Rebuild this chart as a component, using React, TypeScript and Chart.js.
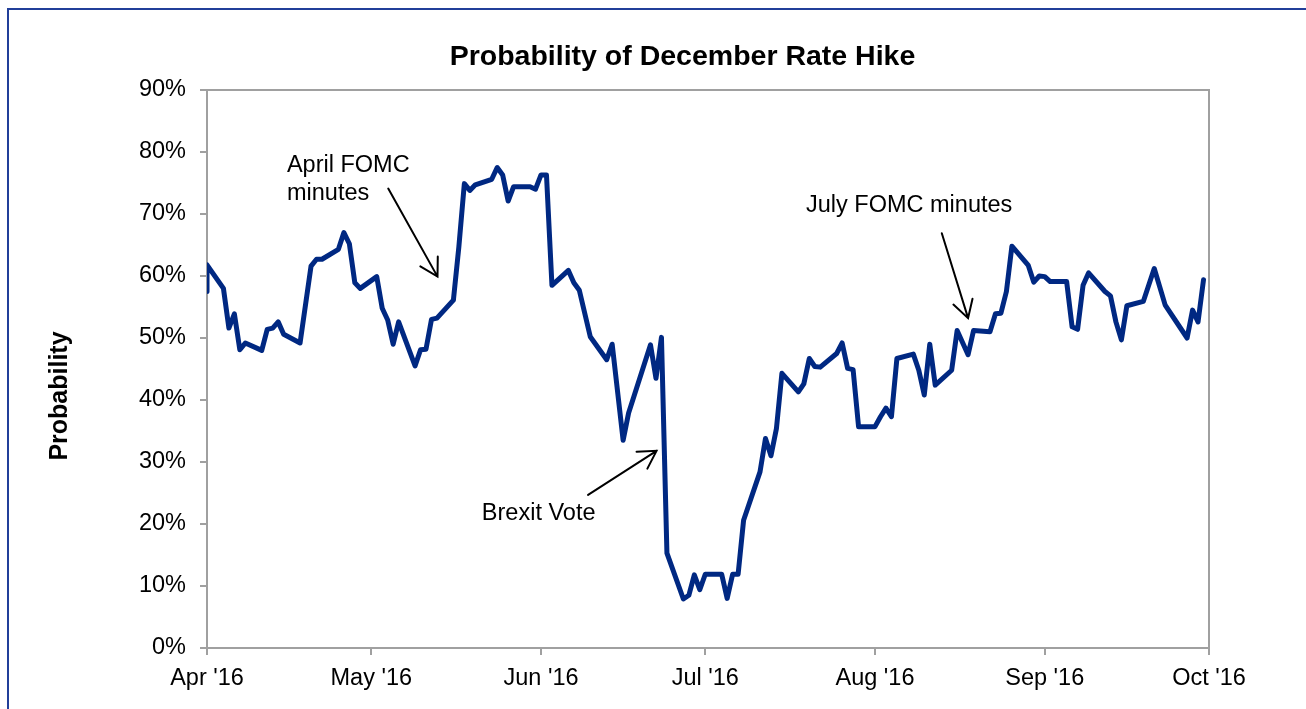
import React, { useEffect, useRef } from "react";
import { Chart, registerables } from "chart.js";

Chart.register(...registerables);

const FONT = "'Liberation Sans', Arial, Helvetica, sans-serif";
const LINE_COLOR = "#002882";
const AXIS_COLOR = "#A0A0A0";
const FRAME_COLOR = "#213F99";

// Trading dates (ISO) and probability of a December hike (%)
const dates: string[] = [
  "2016-04-01", "2016-04-01", "2016-04-04", "2016-04-05", "2016-04-06", "2016-04-07", "2016-04-08",
  "2016-04-11", "2016-04-12", "2016-04-13", "2016-04-14", "2016-04-15",
  "2016-04-18", "2016-04-20", "2016-04-21", "2016-04-22",
  "2016-04-25", "2016-04-26", "2016-04-27", "2016-04-28", "2016-04-29",
  "2016-05-02", "2016-05-03", "2016-05-04", "2016-05-05", "2016-05-06",
  "2016-05-09", "2016-05-10", "2016-05-11", "2016-05-12", "2016-05-13",
  "2016-05-16", "2016-05-17", "2016-05-18", "2016-05-19", "2016-05-20",
  "2016-05-23", "2016-05-24", "2016-05-25", "2016-05-26", "2016-05-27",
  "2016-05-30", "2016-05-31", "2016-06-01", "2016-06-02", "2016-06-03",
  "2016-06-06", "2016-06-07", "2016-06-08", "2016-06-10",
  "2016-06-13", "2016-06-14", "2016-06-16", "2016-06-17",
  "2016-06-21", "2016-06-22", "2016-06-23", "2016-06-24",
  "2016-06-27", "2016-06-28", "2016-06-29", "2016-06-30", "2016-07-01",
  "2016-07-04", "2016-07-05", "2016-07-06", "2016-07-07", "2016-07-08",
  "2016-07-11", "2016-07-12", "2016-07-13", "2016-07-14", "2016-07-15",
  "2016-07-18", "2016-07-19", "2016-07-20", "2016-07-21", "2016-07-22",
  "2016-07-25", "2016-07-26", "2016-07-27", "2016-07-28", "2016-07-29",
  "2016-08-01", "2016-08-02", "2016-08-03", "2016-08-04", "2016-08-05",
  "2016-08-08", "2016-08-09", "2016-08-10", "2016-08-11", "2016-08-12",
  "2016-08-15", "2016-08-16", "2016-08-18", "2016-08-19",
  "2016-08-22", "2016-08-23", "2016-08-24", "2016-08-25", "2016-08-26",
  "2016-08-29", "2016-08-30", "2016-08-31", "2016-09-01", "2016-09-02",
  "2016-09-05", "2016-09-06", "2016-09-07", "2016-09-08", "2016-09-09",
  "2016-09-12", "2016-09-13", "2016-09-14", "2016-09-15", "2016-09-16",
  "2016-09-19", "2016-09-21", "2016-09-23",
  "2016-09-27", "2016-09-28", "2016-09-29", "2016-09-30",
];

const probability: number[] = [
  57.5, 61.8, 58.0, 51.6, 53.9, 48.1, 49.2,
  48.0, 51.4, 51.6, 52.6, 50.6,
  49.2, 61.6, 62.7, 62.7,
  64.3, 67.0, 65.2, 58.9, 58.0,
  59.9, 54.8, 52.9, 49.0, 52.6,
  45.5, 48.1, 48.2, 53.0, 53.2,
  56.1, 64.7, 74.9, 73.8, 74.7,
  75.6, 77.5, 76.3, 72.1, 74.4,
  74.4, 74.0, 76.3, 76.3, 58.5,
  60.9, 58.9, 57.7, 50.2,
  46.5, 49.0, 33.5, 37.9,
  48.9, 43.5, 50.1, 15.3,
  7.9, 8.5, 11.8, 9.4, 11.9,
  11.9, 8.0, 11.9, 11.9, 20.6,
  28.4, 33.8, 31.0, 35.4, 44.3,
  41.3, 42.6, 46.7, 45.4, 45.3,
  47.5, 49.2, 45.1, 44.9, 35.7,
  35.7, 37.3, 38.7, 37.3, 46.7,
  47.4, 44.8, 40.8, 49.0, 42.4,
  44.8, 51.2, 47.3, 51.2,
  51.0, 53.9, 54.0, 57.5, 64.8,
  61.7, 59.0, 60.0, 59.9, 59.1,
  59.1, 51.8, 51.4, 58.5, 60.5,
  57.5, 56.8, 52.6, 49.7, 55.2,
  55.9, 61.2, 55.3,
  50.0, 54.5, 52.6, 59.4,
];

const monthTicks: string[] = [
  "2016-04-01", "2016-05-01", "2016-06-01", "2016-07-01", "2016-08-01", "2016-09-01", "2016-10-01",
];
const monthLabels: string[] = ["Apr '16", "May '16", "Jun '16", "Jul '16", "Aug '16", "Sep '16", "Oct '16"];

const yMin = 0;
const yMax = 90;
const yStep = 10;

const chartTitle = "Probability of December Rate Hike";
const yAxisTitle = "Probability";

// Annotation text, anchored in data units (days since 1 Apr 2016, %)
const noteTexts: string[] = ["April FOMC", "minutes", "July FOMC minutes", "Brexit Vote"];
const noteDays: number[] = [14.6, 14.6, 109.4, 50.2];
const noteValues: number[] = [76.8, 72.3, 70.3, 20.7];

// Arrows: [fromDay, fromValue, toDay, toValue]
const arrows: number[][] = [
  [33.1, 74.1, 42.1, 59.9],
  [134.2, 66.9, 139.0, 53.2],
  [69.6, 24.7, 82.1, 31.8],
];

const DAY0 = Date.UTC(2016, 3, 1);
const dayOf = (s: string) =>
  (Date.UTC(+s.slice(0, 4), +s.slice(5, 7) - 1, +s.slice(8, 10)) - DAY0) / 86400000;

const decorPlugin = {
  id: "decor",
  beforeDatasetsDraw(chart: any) {
    const { ctx, chartArea } = chart;
    ctx.save();
    ctx.strokeStyle = AXIS_COLOR;
    ctx.lineWidth = 2;
    ctx.strokeRect(chartArea.left, chartArea.top, chartArea.right - chartArea.left, chartArea.bottom - chartArea.top);
    ctx.restore();
  },
  afterDraw(chart: any) {
    const { ctx } = chart;
    const xs = chart.scales.x;
    const ys = chart.scales.y;
    ctx.save();
    // title
    ctx.fillStyle = "#000";
    ctx.font = `bold 28.5px ${FONT}`;
    ctx.textAlign = "center";
    ctx.textBaseline = "alphabetic";
    ctx.fillText(chartTitle, 682.5, 64.5);
    // y axis title
    ctx.save();
    ctx.translate(60, 396);
    ctx.rotate(-Math.PI / 2);
    ctx.font = `bold 25px ${FONT}`;
    ctx.textBaseline = "middle";
    ctx.textAlign = "center";
    ctx.fillText(yAxisTitle, 0, 0);
    ctx.restore();
    // notes
    ctx.font = `23.5px ${FONT}`;
    ctx.textAlign = "left";
    ctx.textBaseline = "alphabetic";
    noteTexts.forEach((t, i) => {
      ctx.fillText(t, xs.getPixelForValue(noteDays[i]), ys.getPixelForValue(noteValues[i]));
    });
    // arrows
    ctx.strokeStyle = "#000";
    ctx.lineWidth = 2;
    ctx.lineCap = "round";
    arrows.forEach(([d0, v0, d1, v1]) => {
      const x0 = xs.getPixelForValue(d0);
      const y0 = ys.getPixelForValue(v0);
      const x1 = xs.getPixelForValue(d1);
      const y1 = ys.getPixelForValue(v1);
      ctx.beginPath();
      ctx.moveTo(x0, y0);
      ctx.lineTo(x1, y1);
      const ang = Math.atan2(y1 - y0, x1 - x0);
      const L = 20;
      const a = (30 * Math.PI) / 180;
      ctx.moveTo(x1 - L * Math.cos(ang - a), y1 - L * Math.sin(ang - a));
      ctx.lineTo(x1, y1);
      ctx.lineTo(x1 - L * Math.cos(ang + a), y1 - L * Math.sin(ang + a));
      ctx.stroke();
    });
    ctx.restore();
  },
};

export default function App() {
  const ref = useRef<HTMLCanvasElement | null>(null);

  useEffect(() => {
    if (!ref.current) return;
    const points = dates.map((d, i) => ({ x: dayOf(d), y: probability[i] }));
    const tickDays = monthTicks.map(dayOf);
    const chart = new Chart(ref.current, {
      type: "line",
      data: {
        datasets: [
          {
            label: yAxisTitle,
            data: points,
            borderColor: LINE_COLOR,
            borderWidth: 5,
            pointRadius: 0,
            tension: 0,
            borderJoinStyle: "round",
            borderCapStyle: "round",
            fill: false,
          },
        ],
      },
      options: {
        animation: false,
        responsive: false,
        devicePixelRatio: 1,
        layout: { padding: { top: 90, right: 97, left: 0, bottom: 0 } },
        plugins: {
          legend: { display: false },
          title: { display: false },
          tooltip: { enabled: false },
        },
        scales: {
          x: {
            type: "linear",
            min: tickDays[0],
            max: tickDays[tickDays.length - 1],
            afterBuildTicks: (axis: any) => {
              axis.ticks = tickDays.map((v) => ({ value: v }));
            },
            afterFit: (axis: any) => {
              axis.height = 61;
            },
            ticks: {
              autoSkip: false,
              maxRotation: 0,
              padding: 9,
              color: "#000",
              font: { family: FONT, size: 23.5 },
              callback: (_v: any, i: number) => monthLabels[i],
            },
            grid: {
              drawOnChartArea: false,
              drawTicks: true,
              tickLength: 7,
              color: AXIS_COLOR,
              lineWidth: 2,
            },
            border: { display: true, color: AXIS_COLOR, width: 2 },
          },
          y: {
            min: yMin,
            max: yMax,
            afterFit: (axis: any) => {
              axis.width = 207;
            },
            ticks: {
              stepSize: yStep,
              padding: 14,
              color: "#000",
              font: { family: FONT, size: 23.5, lineHeight: 1.05 },
              callback: (v: any) => `${v}%`,
            },
            grid: {
              drawOnChartArea: false,
              drawTicks: true,
              tickLength: 7,
              color: AXIS_COLOR,
              lineWidth: 2,
            },
            border: { display: true, color: AXIS_COLOR, width: 2 },
          },
        },
      },
      plugins: [decorPlugin],
    } as any);
    return () => chart.destroy();
  }, []);

  return (
    <div style={{ position: "fixed", left: 0, top: 0, width: 1306, height: 709, overflow: "hidden", background: "#fff" }}>
      <div
        style={{
          position: "absolute",
          left: 7,
          top: 8,
          width: 1400,
          height: 800,
          borderTop: `2px solid ${FRAME_COLOR}`,
          borderLeft: `2px solid ${FRAME_COLOR}`,
        }}
      />
      <canvas ref={ref} width={1306} height={709} style={{ position: "absolute", left: 0, top: 0 }} />
    </div>
  );
}
